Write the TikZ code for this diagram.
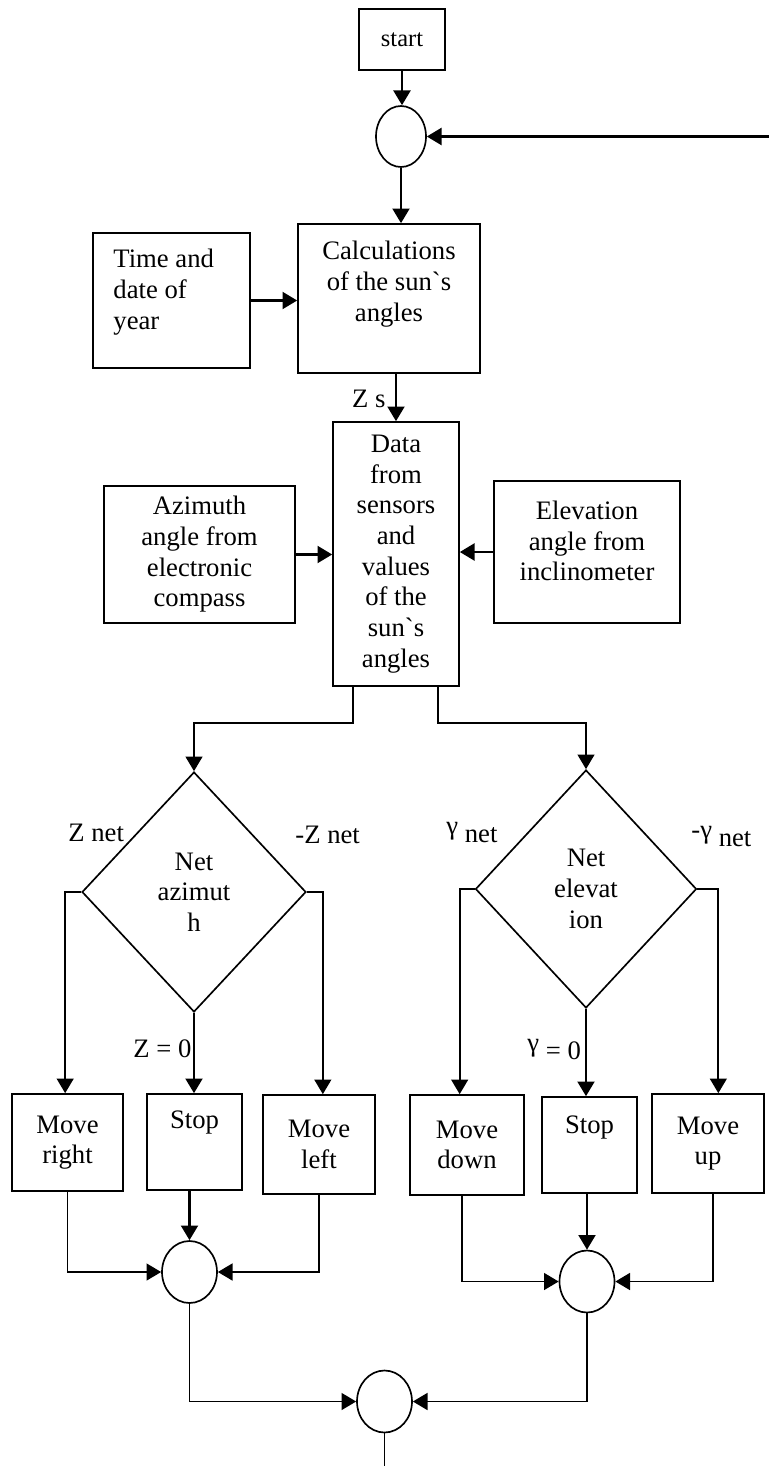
\documentclass[tikz,border=0pt]{standalone}
\usepackage{fontspec}
\setmainfont{Liberation Serif}
\usetikzlibrary{shapes.geometric,arrows.meta}
\tikzstyle{boxStyle}=[shape = rectangle, draw, line width = 0.75pt, inner sep = 0pt, align = center, font = \fontsize{12}{13.8}\selectfont]
\tikzstyle{joinStyle}=[shape = ellipse, draw, line width = 0.75pt, inner sep = 0pt]
\tikzstyle{decideStyle}=[shape = diamond, draw, line width = 0.75pt, inner sep = 0pt, align = center, font = \fontsize{12}{13.8}\selectfont]
\tikzstyle{textStyle}=[inner sep = 0pt, align = center, font = \fontsize{12}{13.8}\selectfont]
\tikzstyle{arrowStyle}=[line width = 1.1pt, -{Triangle[length = 6.6pt, width = 7.6pt]}]
\tikzstyle{elbowStyle}=[arrowStyle, line width = 0.85pt]
\tikzstyle{lineStyle}=[line width = 0.85pt]

\begin{document}
\begin{tikzpicture}[x = 0.45pt, y = -0.45pt]
\useasboundingbox (0,0) rectangle (769,1466);
% top part
\node[boxStyle, minimum width = 38.7pt, minimum height = 27.45pt, font = \fontsize{11}{13}\selectfont] (start) at (402,39.5) {start};
\node[joinStyle, minimum width = 22.5pt, minimum height = 27.45pt] (j0) at (401,136.5) {};
\coordinate (back) at (769,136.5);
\node[boxStyle, minimum width = 81.9pt, minimum height = 67.05pt] (calc) at (389,298.5) {};
\node[textStyle] (calcText) at (389,284) {Calculations\\of the sun\textasciigrave s\\angles};
\node[boxStyle, minimum width = 70.65pt, minimum height = 60.75pt] (time) at (171.5,300.5) {};
\node[textStyle, anchor = west, align = left] (timeText) at (113,292) {Time and\\date of\\year};
\node[textStyle, anchor = base east] (zsLabel) at (386,407) {Z s};
% sensors
\node[boxStyle, minimum width = 56.7pt, minimum height = 118.8pt] (data) at (396,554) {Data\\from\\sensors\\and\\values\\of the\\sun\textasciigrave s\\angles};
\node[boxStyle, minimum width = 85.95pt, minimum height = 61.65pt] (azim) at (199.5,554.5) {Azimuth\\angle from\\electronic\\compass};
\node[boxStyle, minimum width = 83.7pt, minimum height = 63.9pt] (elev) at (587,552) {};
\node[textStyle] (elevText) at (587,541) {Elevation\\angle from\\inclinometer};
% decisions
\node[decideStyle, minimum width = 100.8pt, minimum height = 108pt] (dAz) at (194,892) {Net\\azimut\\h};
\node[decideStyle, minimum width = 99.45pt, minimum height = 107.1pt] (dEl) at (586,889) {Net\\elevat\\ion};
\node[textStyle, anchor = base west] (zNet) at (68,841) {Z net};
\node[textStyle, anchor = base west] (zNegNet) at (295,843) {-Z net};
\node[textStyle, anchor = base west] (gNet) at (446,834) {γ\raisebox{-4pt}{\ net}};
\node[textStyle, anchor = base west] (gNegNet) at (691,838) {-γ\raisebox{-4pt}{\ net}};
\node[textStyle, anchor = base west] (zZero) at (133,1057) {Z = 0};
\node[textStyle, anchor = base west] (gZero) at (527,1051) {γ\raisebox{-4pt}{\ = 0}};
% motors
\node[boxStyle, minimum width = 49.95pt, minimum height = 43.65pt] (mRight) at (67.5,1142.5) {Move\\right};
\node[boxStyle, minimum width = 42.75pt, minimum height = 43.2pt] (stopAz) at (194.5,1142) {};
\node[textStyle, anchor = base] (stopAzText) at (194.5,1128) {Stop};
\node[boxStyle, minimum width = 50.4pt, minimum height = 44.55pt] (mLeft) at (319,1144.5) {Move\\left};
\node[boxStyle, minimum width = 51.3pt, minimum height = 45pt] (mDown) at (467,1145) {Move\\down};
\node[boxStyle, minimum width = 42.75pt, minimum height = 43.2pt] (stopEl) at (589.5,1145) {};
\node[textStyle, anchor = base] (stopElText) at (589.5,1133) {Stop};
\node[boxStyle, minimum width = 50.4pt, minimum height = 44.55pt] (mUp) at (708,1143.5) {Move\\up};
% joins
\node[joinStyle, minimum width = 24.75pt, minimum height = 27.9pt] (jAz) at (189.5,1272) {};
\node[joinStyle, minimum width = 24.75pt, minimum height = 27.9pt] (jEl) at (587,1281.5) {};
\node[joinStyle, minimum width = 24.75pt, minimum height = 27.9pt] (jEnd) at (384.5,1401.5) {};
\coordinate (out) at (384.5,1466);
% connectors
\draw[arrowStyle] (start.south) -- (start.south |- j0.north);
\draw[arrowStyle] (back) -- (j0.east);
\draw[arrowStyle] (j0.south) -- (j0.south |- calc.north);
\draw[arrowStyle] (time.east) -- (time.east -| calc.west);
\draw[arrowStyle] (calc.south -| data.north) -- (data.north);
\draw[arrowStyle] (azim.east) -- (azim.east -| data.west);
\draw[arrowStyle] (elev.west) -- (elev.west -| data.east);
\draw[elbowStyle] ([xshift = -19.35pt]data.south) -- ++(0,36) -| (dAz.north);
\draw[elbowStyle] ([xshift = 18.9pt]data.south) -- ++(0,36) -| (dEl.north);
\draw[elbowStyle] (dAz.west) -- ++(-16,0) coordinate (azL) -- (azL |- mRight.north);
\draw[elbowStyle] (dAz.east) -- ++(16,0) coordinate (azR) -- (azR |- mLeft.north);
\draw[arrowStyle] (dAz.south) -- (dAz.south |- stopAz.north);
\draw[elbowStyle] (dEl.west) -- ++(-15,0) coordinate (elL) -- (elL |- mDown.north);
\draw[elbowStyle] (dEl.east) -- ++(21,0) coordinate (elR) -- (elR |- mUp.north);
\draw[arrowStyle] (dEl.south) -- (dEl.south |- stopEl.north);
\draw[elbowStyle] (mRight.south) |- (jAz.west);
\draw[arrowStyle] (jAz.north |- stopAz.south) -- (jAz.north);
\draw[elbowStyle] (mLeft.south) |- (jAz.east);
\draw[elbowStyle] ([xshift = -2.25pt]mDown.south) |- (jEl.west);
\draw[arrowStyle] (jEl.north |- stopEl.south) -- (jEl.north);
\draw[elbowStyle] ([xshift = 2.25pt]mUp.south) |- (jEl.east);
\draw[elbowStyle] (jAz.south) |- (jEnd.west);
\draw[elbowStyle] (jEl.south) |- (jEnd.east);
\draw[lineStyle] (jEnd.south) -- (out);
\end{tikzpicture}
\end{document}
